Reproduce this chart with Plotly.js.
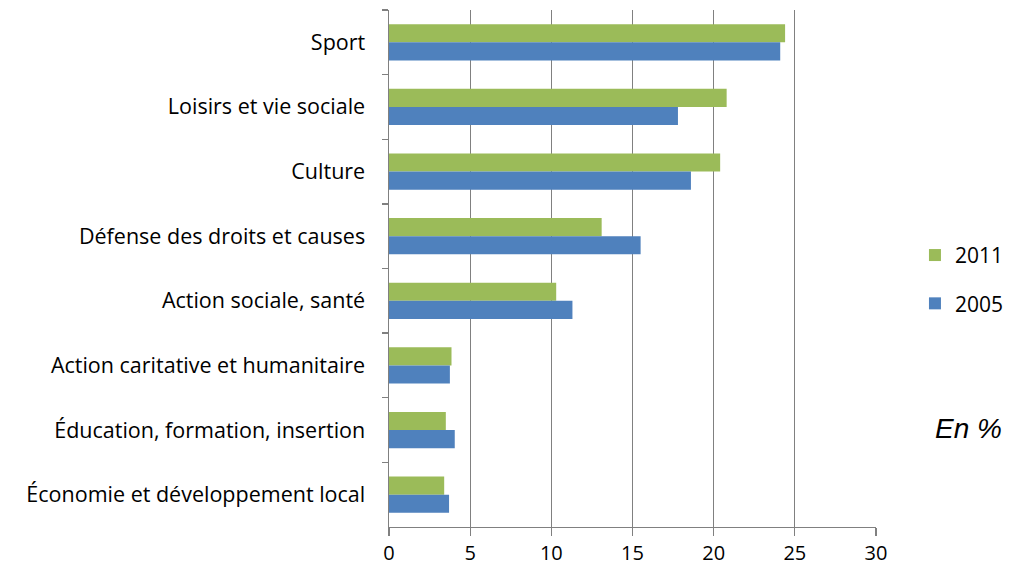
<!DOCTYPE html>
<html>
<head>
<meta charset="utf-8">
<script src="https://cdn.plot.ly/plotly-3.0.1.min.js"></script>
<style>html,body{margin:0;padding:0;background:#fff;}#chart{width:1015px;height:571px;}</style>
</head>
<body>
<div id="chart"></div>
<script>
var categories = ["Sport", "Loisirs et vie sociale", "Culture", "Défense des droits et causes",
  "Action sociale, santé", "Action caritative et humanitaire",
  "Éducation, formation, insertion", "Économie et développement local"];
var values2011 = [24.4, 20.8, 20.4, 13.1, 10.3, 3.85, 3.5, 3.4];
var values2005 = [24.1, 17.8, 18.6, 15.5, 11.3, 3.75, 4.05, 3.7];
var seriesNames = ["2011", "2005"];
var xTicks = [0, 5, 10, 15, 20, 25, 30];

var data = [
  {type: "bar", orientation: "h", name: seriesNames[0], x: values2011, y: categories,
   marker: {color: "#9BBB59"}, legendgroup: "a", hoverinfo: "x"},
  {type: "bar", orientation: "h", name: seriesNames[1], x: values2005, y: categories,
   marker: {color: "#4F81BD"}, legendgroup: "b", hoverinfo: "x"}
];

var layout = {
  width: 1015, height: 571,
  margin: {l: 389, r: 139, t: 10, b: 44, autoexpand: false},
  paper_bgcolor: "#fff", plot_bgcolor: "#fff",
  barmode: "group", bargap: 0.44, bargroupgap: 0,
  font: {family: "'Open Sans', sans-serif", color: "#000"},
  xaxis: {range: [0, 30], tickvals: xTicks, ticktext: xTicks.map(String),
    showgrid: true, gridcolor: "#808080", gridwidth: 1.3,
    showline: true, linecolor: "#808080", linewidth: 1.3,
    ticks: "outside", ticklen: 8, tickcolor: "#808080", tickwidth: 1.3,
    tickfont: {size: 20, family: "'Open Sans', sans-serif"}, zeroline: false, fixedrange: true,
    automargin: false},
  yaxis: {type: "category", categoryorder: "array", categoryarray: categories,
    autorange: "reversed", tickson: "boundaries",
    showline: true, linecolor: "#808080", linewidth: 1.5,
    ticks: "outside", ticklen: 6, tickcolor: "#808080", tickwidth: 1.3,
    ticklabelstandoff: 18, automargin: false,
    tickfont: {size: 21.5, family: "'Open Sans', sans-serif"}, showgrid: false, fixedrange: true},
  legend: {x: 1.08, y: 0.565, xanchor: "left", yanchor: "top",
    traceorder: "grouped", tracegroupgap: 18,
    font: {size: 21, family: "'Open Sans', sans-serif"}, bgcolor: "rgba(0,0,0,0)"},
  annotations: [{text: "<i>En %</i>", xref: "paper", yref: "paper",
    x: 1.19, y: 0.19, xanchor: "center", yanchor: "middle", showarrow: false,
    font: {size: 28, family: "'Liberation Sans', Arial, sans-serif", color: "#000"}}]
};

Plotly.newPlot("chart", data, layout, {displayModeBar: false, staticPlot: true});
</script>
</body>
</html>
